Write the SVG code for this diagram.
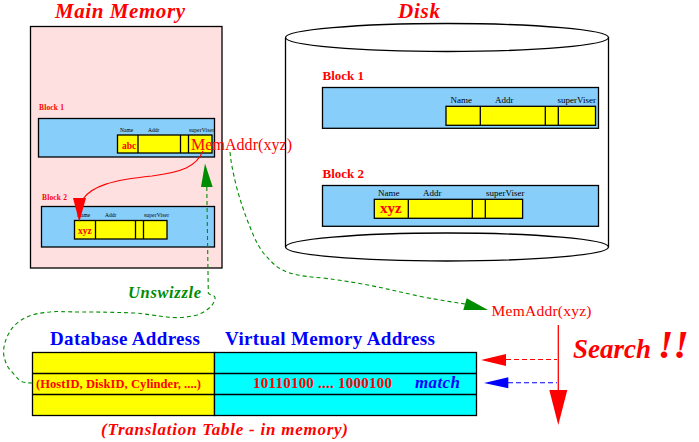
<svg xmlns="http://www.w3.org/2000/svg" width="699" height="442" viewBox="0 0 699 442">
<style>
text{font-family:"Liberation Serif","Times New Roman",serif}
.title{font-size:21px;font-weight:bold;font-style:italic;fill:#ff0000}
.blk{fill:#87cefa;stroke:#000;stroke-width:1.3}
.cell{fill:#ffff00;stroke:#000;stroke-width:1.3}
.ln{stroke:#000;stroke-width:1.3}
.lbl{font-size:9px;fill:#000}
.tiny{font-size:5.5px;fill:#000}
.red{fill:#ff0000}
.b{font-weight:bold}
.i{font-style:italic}
.gd{fill:none;stroke:#008c00;stroke-width:1.1;stroke-dasharray:4,3}
.blue{fill:#0000ff}
.green{fill:#008c00}
</style>
<rect width="699" height="442" fill="#fff"/>

<g id="main-memory">
<text class="title" x="120" y="18" text-anchor="middle" textLength="130">Main Memory</text>
<rect x="30.5" y="26.5" width="191.5" height="241.5" fill="#ffe0e0" stroke="#000" stroke-width="1.3"/>
</g>

<g id="mm-block1">
<text class="red b" x="39" y="110" font-size="7.5" textLength="25">Block 1</text>
<rect class="blk" x="38.5" y="118.5" width="176" height="38.5"/>
<text class="tiny" x="120" y="131.5">Name</text>
<text class="tiny" x="148" y="131.5">Addr</text>
<text class="tiny" x="189" y="131.5" textLength="25">superViser</text>
<rect class="cell" x="117.5" y="135" width="94.5" height="18"/>
<line class="ln" x1="138" y1="135" x2="138" y2="153"/>
<line class="ln" x1="180.5" y1="135" x2="180.5" y2="153"/>
<line class="ln" x1="188.5" y1="135" x2="188.5" y2="153"/>
<text class="red b" x="122" y="149" font-size="9.5">abc</text>
</g>

<g id="mm-block2">
<text class="red b" x="42" y="200" font-size="7.5" textLength="25">Block 2</text>
<rect class="blk" x="41.5" y="206.5" width="173" height="40.5"/>
<text class="tiny" x="77" y="217">Name</text>
<text class="tiny" x="105" y="217">Addr</text>
<text class="tiny" x="144" y="217" textLength="25">superViser</text>
<rect class="cell" x="74.5" y="220.5" width="92.5" height="18.5"/>
<line class="ln" x1="95.5" y1="220.5" x2="95.5" y2="239"/>
<line class="ln" x1="135.5" y1="220.5" x2="135.5" y2="239"/>
<line class="ln" x1="143.5" y1="220.5" x2="143.5" y2="239"/>
<text class="red b" x="78" y="234" font-size="9.5">xyz</text>
</g>

<g id="mm-memaddr">
<text class="red" x="191" y="150" font-size="16" textLength="101">MemAddr(xyz)</text>
</g>

<g id="disk">
<text class="title" x="419" y="18" text-anchor="middle" textLength="42">Disk</text>
<ellipse cx="447" cy="247" rx="161.5" ry="14" fill="#fff" stroke="#000" stroke-width="1.3"/>
<line class="ln" x1="285.5" y1="38" x2="285.5" y2="247"/>
<line class="ln" x1="608.5" y1="37" x2="608.5" y2="247"/>
<ellipse cx="447" cy="37.5" rx="161.5" ry="14" fill="#fff" stroke="#000" stroke-width="1.3"/>
</g>

<g id="disk-block1">
<text class="red b" x="322.5" y="80" font-size="13">Block 1</text>
<rect class="blk" x="322.5" y="87.5" width="276" height="40.8"/>
<text class="lbl" x="450.5" y="103">Name</text>
<text class="lbl" x="495" y="103">Addr</text>
<text class="lbl" x="557.5" y="103">superViser</text>
<rect class="cell" x="446" y="106.3" width="149.5" height="19"/>
<line class="ln" x1="480.3" y1="106.3" x2="480.3" y2="125.3"/>
<line class="ln" x1="545.3" y1="106.3" x2="545.3" y2="125.3"/>
<line class="ln" x1="558.3" y1="106.3" x2="558.3" y2="125.3"/>
</g>

<g id="disk-block2">
<text class="red b" x="322.5" y="178" font-size="13">Block 2</text>
<rect class="blk" x="322.5" y="185.5" width="276" height="40.8"/>
<text class="lbl" x="378" y="196">Name</text>
<text class="lbl" x="423" y="196">Addr</text>
<text class="lbl" x="486" y="196">superViser</text>
<rect class="cell" x="374.3" y="199.3" width="148.3" height="19"/>
<line class="ln" x1="408.3" y1="199.3" x2="408.3" y2="218.3"/>
<line class="ln" x1="472.3" y1="199.3" x2="472.3" y2="218.3"/>
<line class="ln" x1="485.3" y1="199.3" x2="485.3" y2="218.3"/>
<text class="red b" x="380" y="213" font-size="15">xyz</text>
</g>

<g id="translation-table">
<text class="blue b" x="50" y="345" font-size="19" textLength="150">Database Address</text>
<text class="blue b" x="225" y="345" font-size="19" textLength="210">Virtual Memory Address</text>
<rect x="32.5" y="352.5" width="182" height="63" fill="#ffff00" stroke="#000" stroke-width="1.3"/>
<rect x="214.5" y="352.5" width="262" height="63" fill="#00ffff" stroke="#000" stroke-width="1.3"/>
<line class="ln" x1="32.5" y1="373.5" x2="476.5" y2="373.5"/>
<line class="ln" x1="32.5" y1="394.5" x2="476.5" y2="394.5"/>
<text class="red b" x="36" y="388" font-size="12.5" textLength="165">(HostID, DiskID, Cylinder, ....)</text>
<text class="red b" x="253" y="388" font-size="15" textLength="139">10110100 .... 1000100</text>
<text class="blue b i" x="415" y="388" font-size="17" textLength="45">match</text>
<text class="red b i" x="101" y="435" font-size="17" textLength="247">(Translation Table - in memory)</text>
</g>

<g id="search">
<text class="red" x="491.5" y="316" font-size="15.5" textLength="100">MemAddr(xyz)</text>
<text class="red b i" x="573" y="358" font-size="27">Search <tspan font-size="40">!!</tspan></text>
</g>

<g id="unswizzle-label">
<text class="green b i" x="128" y="298" font-size="16.5" textLength="73">Unswizzle</text>
</g>

<g id="connectors">
<path d="M203,151 C196,167 182,172 152,176 C112,180 92,186 83,199" fill="none" stroke="#ff0000" stroke-width="1.1"/>
<polygon points="73,198 86,198 79.3,222" fill="#ff0000"/>
<polygon points="205,163.5 201,187 212.7,187" fill="#008c00"/>
<path class="gd" d="M206.8,187 L208.3,293 C210,296 216,294 215,299 C213,307 205,312 197,315 C185,318 175,318 167,317 C150,315 140,313 133,313 C110,312 95,312 83,312 C65,312 55,311 50,312 C40,313 33,314 27,317 C18,321 12,327 9,333 C4,342 2,352 5,360 C7,367 10,370 13,373 C17,378 20,381 23,382 C27,383 30,383 34,383"/>
<path class="gd" d="M230,152 C231,163 233,172 236,185 C240,200 245,215 250,227 C255,240 260,250 267,257 C274,265 280,270 290,273 C300,276 310,277 323,278 C340,280 350,282 357,283 C380,287 400,292 423,297 C440,300 452,302 465,304"/>
<polygon points="463.3,310 466.7,298.3 488,310" fill="#008c00"/>
<line x1="558.3" y1="325" x2="558.3" y2="392" stroke="#ff0000" stroke-width="1.3"/>
<polygon points="549.3,390 567.3,390 558.3,425" fill="#ff0000"/>
<line x1="506" y1="359.5" x2="557" y2="359.5" stroke="#ff0000" stroke-width="1.1" stroke-dasharray="5,3"/>
<polygon points="481,360 506,354 506,366" fill="#ff0000"/>
<line x1="508" y1="382.7" x2="557" y2="382.7" stroke="#0000ff" stroke-width="1.1" stroke-dasharray="5,3"/>
<polygon points="484,383 508.3,377.3 508.3,388.3" fill="#0000ff"/>
</g>
</svg>
